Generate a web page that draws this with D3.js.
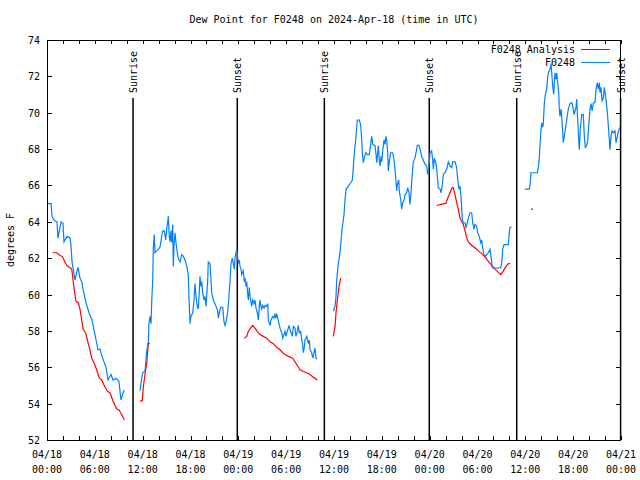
<!DOCTYPE html>
<html><head><meta charset="utf-8">
<script src="https://cdn.jsdelivr.net/npm/d3@7"></script>
<style>
body{margin:0;background:#fff}
text{font-family:"DejaVu Sans Mono",monospace;font-size:10px;fill:#000}
</style>
</head><body>
<svg id="c" width="640" height="480"></svg>
<script>
const titleText = "Dew Point for F0248 on 2024-Apr-18 (time in UTC)";
const yLabelText = "degrees F";
const seriesNames = ["F0248 Analysis", "F0248"];
const seriesColors = ["#ff0000", "#0080ff"];
const yTicks = [52, 54, 56, 58, 60, 62, 64, 66, 68, 70, 72, 74];
const startDate = "2024-04-18T00:00:00Z";
const endDate = "2024-04-21T00:00:00Z";
const sunriseHours = [10.79, 34.79, 58.92];
const sunsetHours = [23.87, 47.95, 71.95];

// hours since 04/18 00:00 UTC; null marks a gap
const blueHours = [
0.13,0.50,0.63,0.88,1.25,1.38,1.76,2.01,2.13,2.51,2.89,3.01,3.14,3.51,3.89,4.14,4.39,4.52,4.89,5.27,5.64,5.90,6.15,6.40,6.65,6.90,7.40,7.65,8.03,8.28,8.66,9.03,9.28,9.41,9.66,
10.5,
11.67,11.88,12.0,12.29,12.38,12.51,12.71,12.79,12.92,13.05,13.13,13.26,13.33,13.46,13.55,13.76,14.17,14.39,14.51,14.71,14.89,15.01,15.14,15.22,15.34,15.43,15.55,15.64,15.77,15.84,15.93,16.06,16.18,16.34,16.47,16.68,16.90,17.10,17.31,17.52,17.72,17.81,17.94,18.06,18.28,18.44,18.56,18.69,18.85,18.98,19.07,19.19,19.32,19.41,19.53,19.69,19.82,19.94,20.03,20.16,20.23,20.45,20.57,20.66,20.86,21.07,21.20,21.41,21.49,21.61,21.79,22.04,22.20,22.33,22.45,22.62,22.74,22.87,22.96,23.08,23.24,23.37,23.49,23.58,23.71,23.80,23.92,24.0,24.12,24.21,24.34,24.42,24.62,24.75,24.84,24.96,25.05,25.18,25.25,25.38,25.46,25.59,25.68,25.80,25.97,26.09,26.22,26.38,26.51,26.63,26.72,26.84,26.93,27.06,27.22,27.35,27.56,27.69,27.76,27.97,28.10,28.31,28.47,28.60,28.73,28.81,28.94,29.10,29.23,29.44,29.57,29.73,29.86,29.98,30.14,30.36,30.48,30.61,30.77,30.90,31.11,31.23,31.40,31.52,31.65,31.82,31.95,32.07,32.15,32.28,32.36,32.58,32.78,32.90,32.99,33.20,33.33,33.49,33.62,33.74,33.91,
34.8,
35.91,36.13,36.25,36.34,36.54,36.75,36.84,36.97,37.09,37.26,37.38,37.51,37.80,38.10,38.30,38.42,38.55,38.72,38.92,39.18,39.35,39.48,39.55,39.68,39.80,39.98,40.18,40.43,40.52,40.73,40.86,41.02,41.14,41.27,41.36,41.48,41.56,41.68,41.77,41.90,41.98,42.11,42.27,42.40,42.52,42.61,42.74,42.81,42.94,43.11,43.36,43.53,43.65,43.78,43.87,43.94,44.12,44.19,44.37,44.49,44.62,44.78,44.91,45.12,45.25,45.41,45.53,45.66,45.79,45.95,46.16,46.29,46.45,46.66,46.79,47.0,47.20,47.42,47.63,47.75,47.92,48.04,48.25,48.38,48.46,48.58,48.76,48.88,49.01,49.08,49.30,49.42,49.59,49.71,49.92,50.14,50.34,50.55,50.76,50.89,51.18,51.39,51.52,51.68,51.81,51.93,52.02,52.10,52.22,52.44,52.56,52.72,52.85,53.06,53.27,53.40,53.56,53.69,53.90,54.02,54.22,54.40,54.53,54.65,54.82,55.03,55.16,55.36,55.57,55.69,55.86,56.20,56.61,56.91,57.04,57.16,57.33,57.87,57.99,58.08,58.29,
59.2,
59.96,60.50,60.59,60.71,61.50,61.63,61.75,61.84,61.97,62.09,62.18,62.26,62.38,62.51,62.68,62.81,62.97,63.10,63.22,63.31,63.43,63.56,63.64,63.72,63.85,63.94,64.06,64.19,64.26,64.35,64.48,64.56,64.69,64.76,64.89,65.02,65.19,65.39,65.61,65.82,65.94,66.11,66.36,66.44,66.57,66.70,66.77,66.90,67.07,67.27,67.40,67.53,67.70,67.83,67.95,68.11,68.24,68.37,68.53,68.74,68.87,69.03,69.16,69.28,69.37,69.49,69.62,69.78,69.91,70.12,70.29,70.41,70.54,70.62,70.75,70.87,71.04,71.25,71.38,71.54,71.67,71.87
];
const blueDew = [
65.0,65.0,64.3,64.1,64.0,63.1,64.0,63.9,62.9,63.2,63.1,62.7,61.8,60.8,61.5,60.9,60.65,60.3,59.55,59.0,58.6,58.06,57.5,56.96,57.0,56.6,56.0,55.3,55.6,55.3,55.4,55.2,54.2,54.4,54.75,
null,
54.7,55.4,55.7,55.8,56.2,56.9,57.4,58.4,58.8,58.4,59.55,60.8,62.5,63.3,62.3,62.4,62.6,63.2,63.5,63.5,63.0,63.6,64.0,64.3,63.2,62.9,63.5,62.85,63.85,61.55,62.65,63.4,62.85,62.3,62.0,61.8,62.2,62.1,61.9,61.6,61.1,59.8,58.4,58.8,59.0,59.7,60.6,59.9,59.35,59.2,59.9,61.0,60.45,60.7,60.1,59.7,59.9,59.35,59.9,60.8,61.8,61.7,60.8,60.1,59.7,59.5,59.35,59.1,58.7,59.0,59.3,59.3,58.5,58.3,58.5,58.9,59.4,60.2,60.8,61.7,62.0,61.7,61.4,62.0,62.3,62.5,62.0,61.7,61.9,61.55,61.4,61.1,61.3,60.7,60.9,60.45,60.7,60.0,59.7,60.4,59.9,59.6,59.35,59.7,59.5,59.7,59.25,59.0,58.6,59.35,59.7,59.35,59.2,59.4,59.25,59.4,59.35,59.5,58.6,58.3,58.6,58.8,58.7,58.9,58.7,58.95,58.7,58.4,58.15,57.9,57.6,57.8,57.97,57.7,57.97,58.3,58.06,57.9,57.7,58.25,58.15,57.7,57.97,58.3,57.9,57.97,57.5,57.3,56.8,57.1,57.5,57.7,57.3,57.5,56.96,56.8,56.5,56.8,57.05,56.5,56.45,
null,
59.1,59.35,59.9,60.8,61.7,62.3,62.75,63.4,63.85,64.4,65.2,65.8,65.96,66.15,66.3,66.97,67.8,68.5,69.6,69.6,69.3,68.5,67.8,67.25,67.5,67.8,67.7,67.7,68.0,68.7,68.26,68.2,68.2,67.7,67.25,67.8,68.2,67.4,67.07,67.6,67.3,67.9,68.5,68.26,68.7,68.5,67.8,66.8,67.3,67.8,67.8,67.4,66.9,66.2,65.7,66.05,66.3,65.7,65.2,64.7,65.05,65.2,65.5,65.6,65.87,65.6,64.95,65.6,66.5,67.3,67.5,67.8,68.2,68.2,68.0,67.6,67.4,67.15,67.07,66.6,67.07,67.8,67.9,67.4,66.9,67.5,67.25,66.9,66.3,65.87,65.8,65.6,66.05,66.6,66.7,66.9,67.3,67.07,66.97,67.3,67.3,66.97,66.3,65.8,65.96,65.4,64.7,64.1,63.95,63.95,63.67,63.95,64.2,64.5,64.5,63.95,63.6,63.85,63.76,63.4,63.2,62.85,63.0,62.57,62.2,62.1,62.2,62.3,62.5,62.1,61.46,61.46,61.46,61.46,61.74,62.5,62.75,62.75,63.4,63.7,63.7,
null,
65.8,65.8,66.0,66.7,66.7,66.97,67.5,68.2,69.1,69.45,69.2,69.45,70.5,71.0,71.3,72.0,72.3,72.4,72.7,72.2,71.5,71.0,71.65,72.2,71.85,72.2,71.65,71.1,70.2,69.8,70.2,69.8,68.9,68.35,68.7,69.1,69.6,70.2,70.5,70.55,70.4,69.9,70.3,70.75,69.6,68.5,67.97,69.1,69.9,69.9,68.7,68.1,68.2,68.5,69.3,70.2,70.5,70.1,70.55,70.55,71.3,71.65,71.3,71.65,71.1,71.4,70.65,70.8,71.4,70.75,70.0,69.3,68.5,67.97,68.7,69.0,68.9,69.0,68.35,68.7,69.0,69.2
];

const redHours = [
0.71,1.22,1.63,1.92,2.13,2.47,2.80,3.10,3.22,3.30,3.51,3.64,3.93,4.14,4.35,4.55,4.85,5.06,5.39,5.61,5.90,6.23,6.56,6.86,7.28,7.62,7.90,8.32,8.74,9.03,9.37,9.70,
10.5,
11.67,11.95,12.08,12.29,12.51,12.71,12.92,
18.0,
24.75,25.05,25.25,25.55,25.80,26.09,26.38,26.72,27.13,27.56,27.97,28.39,28.81,29.23,29.57,29.86,30.27,30.82,31.11,31.40,31.74,32.15,32.58,32.99,33.40,33.91,
34.8,
35.91,36.13,36.25,36.42,36.63,36.84,
42.0,
48.88,49.30,49.80,50.01,50.26,50.55,50.84,50.97,51.18,51.39,51.59,51.81,52.02,52.22,52.44,52.65,52.85,53.27,53.69,54.10,54.53,54.94,55.36,55.78,56.20,56.61,56.91,57.24,57.58,57.87,58.08,
59.5,
60.71,60.96
];
const redDew = [
62.3,62.3,62.15,62.1,61.9,61.6,61.5,61.4,61.0,60.65,60.0,59.6,59.55,59.2,58.6,58.06,57.9,57.5,56.96,56.5,56.24,55.86,55.4,55.3,54.9,54.66,54.6,54.1,53.7,53.65,53.4,53.1,
null,
54.15,54.15,54.9,55.6,56.24,57.3,57.3,
null,
57.6,57.7,57.97,58.15,58.3,58.15,57.97,57.8,57.7,57.6,57.4,57.3,57.1,56.96,56.8,56.7,56.6,56.5,56.3,56.1,55.86,55.77,55.7,55.6,55.45,55.3,
null,
57.7,58.25,59.0,59.7,60.45,60.9,
null,
64.9,64.95,65.0,65.0,65.3,65.6,65.9,65.87,65.5,65.05,64.7,64.2,64.03,63.85,63.5,63.1,62.9,62.7,62.57,62.4,62.25,62.07,61.83,61.6,61.4,61.22,61.1,61.3,61.55,61.7,61.7,
null,
64.7,64.7
];

const svg = d3.select("#c");
const L = 47, R = 621, T = 40, B = 440;
const t0 = new Date(startDate), t1 = new Date(endDate);
const hourToDate = h => new Date(t0.getTime() + h * 3600e3);
const x = d3.scaleUtc().domain([t0, t1]).range([L, R]);
const y = d3.scaleLinear().domain([52, 74]).range([B, T]);

// title
svg.append("text").attr("x", (L + R) / 2).attr("y", 23).attr("text-anchor", "middle").text(titleText);
// y label
svg.append("text").attr("transform", `translate(14,${(T + B) / 2}) rotate(-90)`).attr("text-anchor", "middle").text(yLabelText);

const minorTicks = d3.utcHour.every(2).range(t0, new Date(t1.getTime() + 1));
const majorTicks = d3.utcHour.every(6).range(t0, new Date(t1.getTime() + 1));

// bottom ticks
const gB = svg.append("g").attr("transform", `translate(0,${B})`)
  .call(d3.axisBottom(x).tickValues(minorTicks).tickSizeInner(-4).tickSizeOuter(0).tickFormat(""));
gB.select(".domain").remove();
// top ticks
const gT = svg.append("g").attr("transform", `translate(0,${T})`)
  .call(d3.axisTop(x).tickValues(minorTicks).tickSizeInner(-4).tickSizeOuter(0).tickFormat(""));
gT.select(".domain").remove();
// left/right ticks
const gL = svg.append("g").attr("transform", `translate(${L},0)`)
  .call(d3.axisLeft(y).tickValues(yTicks).tickSizeInner(-5).tickSizeOuter(0).tickFormat(""));
gL.select(".domain").remove();
const gR = svg.append("g").attr("transform", `translate(${R},0)`)
  .call(d3.axisRight(y).tickValues(yTicks).tickSizeInner(-5).tickSizeOuter(0).tickFormat(""));
gR.select(".domain").remove();
svg.selectAll(".tick line").attr("stroke", "#000").attr("shape-rendering", "crispEdges");

// tick labels
svg.append("g").selectAll("text").data(yTicks).join("text")
  .attr("x", L - 7).attr("y", d => y(d) + 4).attr("text-anchor", "end").text(d => d);
const fmtD = d3.utcFormat("%m/%d"), fmtT = d3.utcFormat("%H:%M");
const xl = svg.append("g").selectAll("text").data(majorTicks).join("text")
  .attr("text-anchor", "middle");
xl.append("tspan").attr("x", d => x(d)).attr("y", 458).text(d => fmtD(d));
xl.append("tspan").attr("x", d => x(d)).attr("y", 473).text(d => fmtT(d));

// border
svg.append("rect").attr("x", L + 0.5).attr("y", T + 0.5).attr("width", R - L - 1).attr("height", B - T)
  .attr("fill", "none").attr("stroke", "#000").attr("shape-rendering", "crispEdges");

// sun lines
const sunEvents = sunriseHours.map(h => ({h, label: "Sunrise"})).concat(sunsetHours.map(h => ({h, label: "Sunset"})));
const sg = svg.append("g");
sg.selectAll("line").data(sunEvents).join("line")
  .attr("x1", d => x(hourToDate(d.h))).attr("x2", d => x(hourToDate(d.h)))
  .attr("y1", 98).attr("y2", B).attr("stroke", "#000").attr("stroke-width", 1.5);
sg.selectAll("text").data(sunEvents).join("text")
  .attr("transform", d => `translate(${x(hourToDate(d.h)) + 4},93) rotate(-90)`)
  .text(d => d.label);

// series
const line = d3.line().defined(d => d[1] != null).x(d => x(hourToDate(d[0]))).y(d => y(d[1]));
const redData = redHours.map((h, i) => [h, redDew[i]]);
const blueData = blueHours.map((h, i) => [h, blueDew[i]]);
svg.append("path").datum(redData).attr("d", line).attr("fill", "none").attr("stroke", seriesColors[0]).attr("stroke-width", 1.2);
svg.append("path").datum(blueData).attr("d", line).attr("fill", "none").attr("stroke", seriesColors[1]).attr("stroke-width", 1.2);

// legend
const lg = svg.append("g");
seriesNames.forEach((n, i) => {
  const yy = 49 + i * 13;
  lg.append("text").attr("x", 575).attr("y", yy + 4).attr("text-anchor", "end").text(n);
  lg.append("line").attr("x1", 581).attr("x2", 610).attr("y1", yy + 0.5).attr("y2", yy + 0.5)
    .attr("stroke", seriesColors[i]).attr("stroke-width", 1).attr("shape-rendering", "crispEdges");
});
</script>
</body></html>
